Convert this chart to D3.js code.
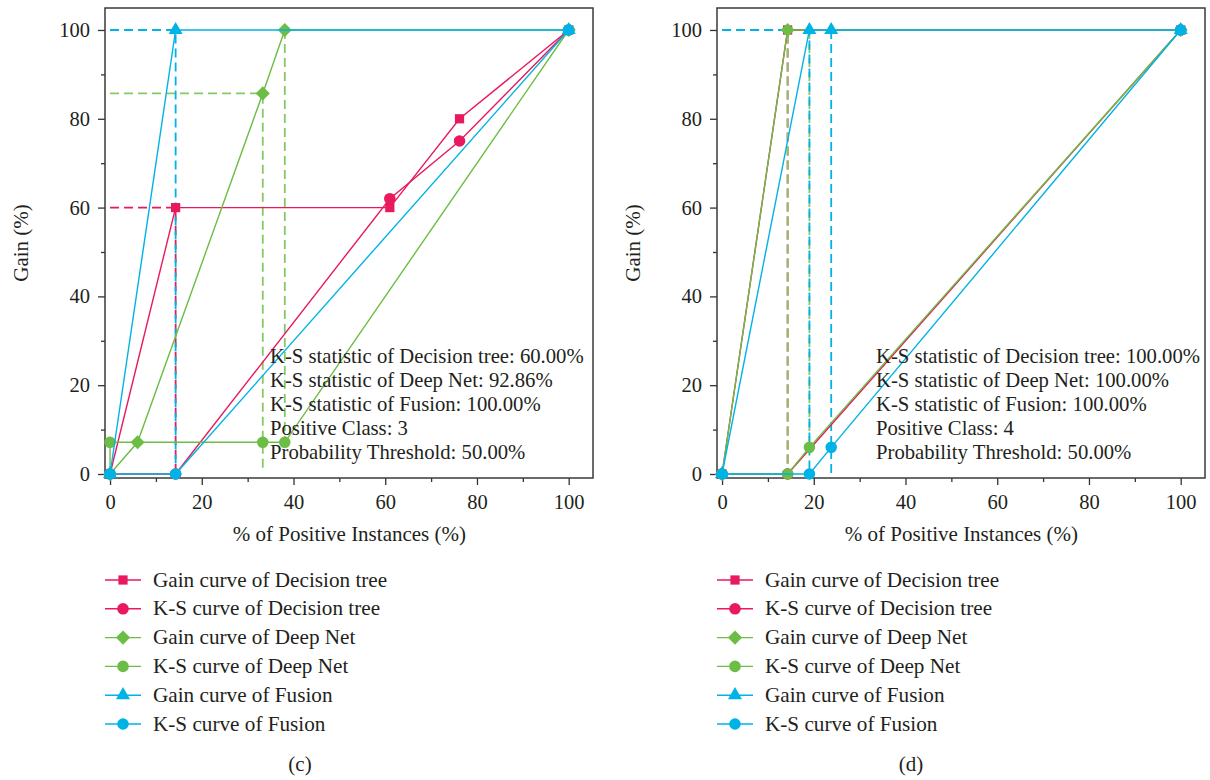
<!DOCTYPE html>
<html><head><meta charset="utf-8">
<script src="https://cdn.jsdelivr.net/npm/d3@7"></script>
<style>
html,body{margin:0;padding:0;background:#fff;}
svg text{font-family:"Liberation Serif","Times New Roman",serif;fill:#231f20;}
</style></head>
<body><svg id="chart" width="1210" height="780"></svg>
<script>
// ---------- DATA ----------
const xTicks = [0, 20, 40, 60, 80, 100];
const yTicks = [0, 20, 40, 60, 80, 100];
const legendLabels = [
  "Gain curve of Decision tree", "K-S curve of Decision tree",
  "Gain curve of Deep Net", "K-S curve of Deep Net",
  "Gain curve of Fusion", "K-S curve of Fusion"
];
const seriesColors = ["#e8195d", "#e8195d", "#6cbd45", "#6cbd45", "#00b3e6", "#00b3e6"];
const seriesMarkers = ["square", "circle", "diamond", "circle", "triangle", "circle"];

// Panel (c)
const c_dtGainX = [0, 14.3, 61.0, 76.2, 100];
const c_dtGainY = [0, 60, 60, 80, 100];
const c_dtKsX = [0, 14.3, 61.0, 76.2, 100];
const c_dtKsY = [0, 0, 62, 75, 100];
const c_dnGainX = [0, 6.0, 33.3, 38.1, 100];
const c_dnGainY = [0, 7.14, 85.71, 100, 100];
const c_dnKsX = [0, 0, 33.3, 38.1, 100];
const c_dnKsY = [0, 7.14, 7.14, 7.14, 100];
const c_fuGainX = [0, 14.3, 100];
const c_fuGainY = [0, 100, 100];
const c_fuKsX = [0, 14.3, 100];
const c_fuKsY = [0, 0, 100];
// dashed guide lines (c): [series index, xs, ys]
const c_guides = [
  [0, [0, 14.3, 14.3], [60, 60, 0]],
  [2, [0, 33.3, 33.3], [85.71, 85.71, 0.6]],
  [2, [38.1, 38.1], [100, 7.14]],
  [4, [0, 14.3, 14.3], [100, 100, 0]]
];
const c_stats = [
  "K-S statistic of Decision tree: 60.00%",
  "K-S statistic of Deep Net: 92.86%",
  "K-S statistic of Fusion: 100.00%",
  "Positive Class: 3",
  "Probability Threshold: 50.00%"
];

// Panel (d)
const d_dtGainX = [0, 14.3, 100];
const d_dtGainY = [0, 100, 100];
const d_dtKsX = [0, 14.3, 100];
const d_dtKsY = [0, 0, 100];
const d_dnGainX = [0, 14.3, 100];
const d_dnGainY = [0, 100, 100];
const d_dnKsX = [0, 14.3, 19.05, 100];
const d_dnKsY = [0, 0, 6.0, 100];
const d_fuGainX = [0, 19.05, 23.8, 100];
const d_fuGainY = [0, 100, 100, 100];
const d_fuKsX = [0, 19.05, 23.8, 100];
const d_fuKsY = [0, 0, 6.0, 100];
const d_guides = [
  [0, [0, 14.3, 14.3], [100, 100, 0]],
  [2, [0, 14.3, 14.3], [100, 100, 0]],
  [2, [19.05, 19.05], [100, 6.0]],
  [4, [0, 19.05, 19.05], [100, 100, 0]],
  [4, [23.8, 23.8], [100, 0]]
];
const d_stats = [
  "K-S statistic of Decision tree: 100.00%",
  "K-S statistic of Deep Net: 100.00%",
  "K-S statistic of Fusion: 100.00%",
  "Positive Class: 4",
  "Probability Threshold: 50.00%"
];

// ---------- DRAW ----------
const svg = d3.select("#chart");
const dashColors = ["#e8195d", "#e8195d", "#86c964", "#86c964", "#00b3e6", "#00b3e6"];

function symbolPath(type) {
  if (type === "square") return d3.symbol(d3.symbolSquare, 85)();
  if (type === "circle") return d3.symbol(d3.symbolCircle, 105)();
  if (type === "diamond") return d3.symbol(d3.symbolSquare, 100)();
  if (type === "triangle") return d3.symbol(d3.symbolTriangle, 85)();
}

function drawPanel(p) {
  const x = d3.scaleLinear().domain([-1.1, 105.3]).range([p.left, p.left + 488]);
  const y = d3.scaleLinear().domain([-0.9, 104.95]).range([478, 8]);
  const g = svg.append("g");

  // axes
  const xMinor = d3.range(10, 100, 20);
  const yMinor = d3.range(10, 100, 20);
  g.append("g").attr("transform", "translate(0,478)")
    .call(d3.axisBottom(x).tickValues(xTicks).tickSize(7).tickPadding(9).tickFormat(d3.format("d")));
  g.append("g").attr("transform", "translate(0,478)")
    .call(d3.axisBottom(x).tickValues(xMinor).tickSize(4).tickFormat(""))
    .call(s => s.select(".domain").remove());
  g.append("g").attr("transform", `translate(${p.left},0)`)
    .call(d3.axisLeft(y).tickValues(yTicks).tickSize(7).tickPadding(8).tickFormat(d3.format("d")));
  g.append("g").attr("transform", `translate(${p.left},0)`)
    .call(d3.axisLeft(y).tickValues(yMinor).tickSize(4).tickFormat(""))
    .call(s => s.select(".domain").remove());
  g.selectAll(".tick line").attr("stroke", "#333").attr("stroke-width", 1.3);
  g.selectAll(".domain").remove();
  g.selectAll(".tick text").style("font-size", "20.5px").attr("fill", "#231f20")
    .style("font-family", '"Liberation Serif",serif');

  // frame
  g.append("rect").attr("x", p.left).attr("y", 8).attr("width", 488).attr("height", 470)
    .attr("fill", "none").attr("stroke", "#3a3a3a").attr("stroke-width", 1.5);

  // axis titles
  g.append("text").attr("x", (x(0) + x(100)) / 2 + 10).attr("y", 541).attr("text-anchor", "middle")
    .style("font-size", "21px").text("% of Positive Instances (%)");
  g.append("text").attr("transform", `translate(${p.left - 77},243) rotate(-90)`)
    .attr("text-anchor", "middle").style("font-size", "21px").text("Gain (%)");

  const line = d3.line().x(d => x(d[0])).y(d => y(d[1]));

  // dashed guides
  p.guides.forEach(gd => {
    const pts = gd[1].map((v, i) => [v, gd[2][i]]);
    g.append("path").attr("d", line(pts)).attr("fill", "none")
      .attr("stroke", dashColors[gd[0]]).attr("stroke-width", 1.8)
      .attr("stroke-dasharray", "9,5");
  });

  // series
  p.series.forEach((s, k) => {
    const pts = s[0].map((v, i) => [v, s[1][i]]);
    g.append("path").attr("d", line(pts)).attr("fill", "none")
      .attr("stroke", seriesColors[k]).attr("stroke-width", 1.4);
    g.selectAll(null).data(pts).enter().append("path")
      .attr("d", symbolPath(seriesMarkers[k]))
      .attr("transform", d => `translate(${x(d[0])},${y(d[1])})` + (seriesMarkers[k] === "diamond" ? " rotate(45)" : ""))
      .attr("fill", seriesColors[k]);
  });

  // stats text
  p.stats.forEach((t, i) => {
    g.append("text").attr("x", p.statsX).attr("y", 363 + i * 24)
      .style("font-size", "20.7px").text(t);
  });

  // legend
  legendLabels.forEach((t, i) => {
    const ly = 580 + i * 28.8;
    const lx = p.left;
    g.append("line").attr("x1", lx).attr("x2", lx + 36).attr("y1", ly).attr("y2", ly)
      .attr("stroke", seriesColors[i]).attr("stroke-width", 1.4);
    g.append("path").attr("d", symbolPath(seriesMarkers[i]))
      .attr("transform", `translate(${lx + 18},${ly})` + (seriesMarkers[i] === "diamond" ? " rotate(45)" : ""))
      .attr("fill", seriesColors[i]);
    g.append("text").attr("x", lx + 48).attr("y", ly + 6.5).style("font-size", "21.2px").text(t);
  });

  // caption
  g.append("text").attr("x", p.captionX).attr("y", 771).attr("text-anchor", "middle")
    .style("font-size", "21px").text(p.caption);
}

drawPanel({
  left: 105, statsX: 270, caption: "(c)", captionX: 300, stats: c_stats, guides: c_guides,
  series: [[c_dtGainX, c_dtGainY], [c_dtKsX, c_dtKsY], [c_dnGainX, c_dnGainY],
           [c_dnKsX, c_dnKsY], [c_fuGainX, c_fuGainY], [c_fuKsX, c_fuKsY]]
});
drawPanel({
  left: 717, statsX: 876, caption: "(d)", captionX: 911, stats: d_stats, guides: d_guides,
  series: [[d_dtGainX, d_dtGainY], [d_dtKsX, d_dtKsY], [d_dnGainX, d_dnGainY],
           [d_dnKsX, d_dnKsY], [d_fuGainX, d_fuGainY], [d_fuKsX, d_fuKsY]]
});
</script></body></html>
